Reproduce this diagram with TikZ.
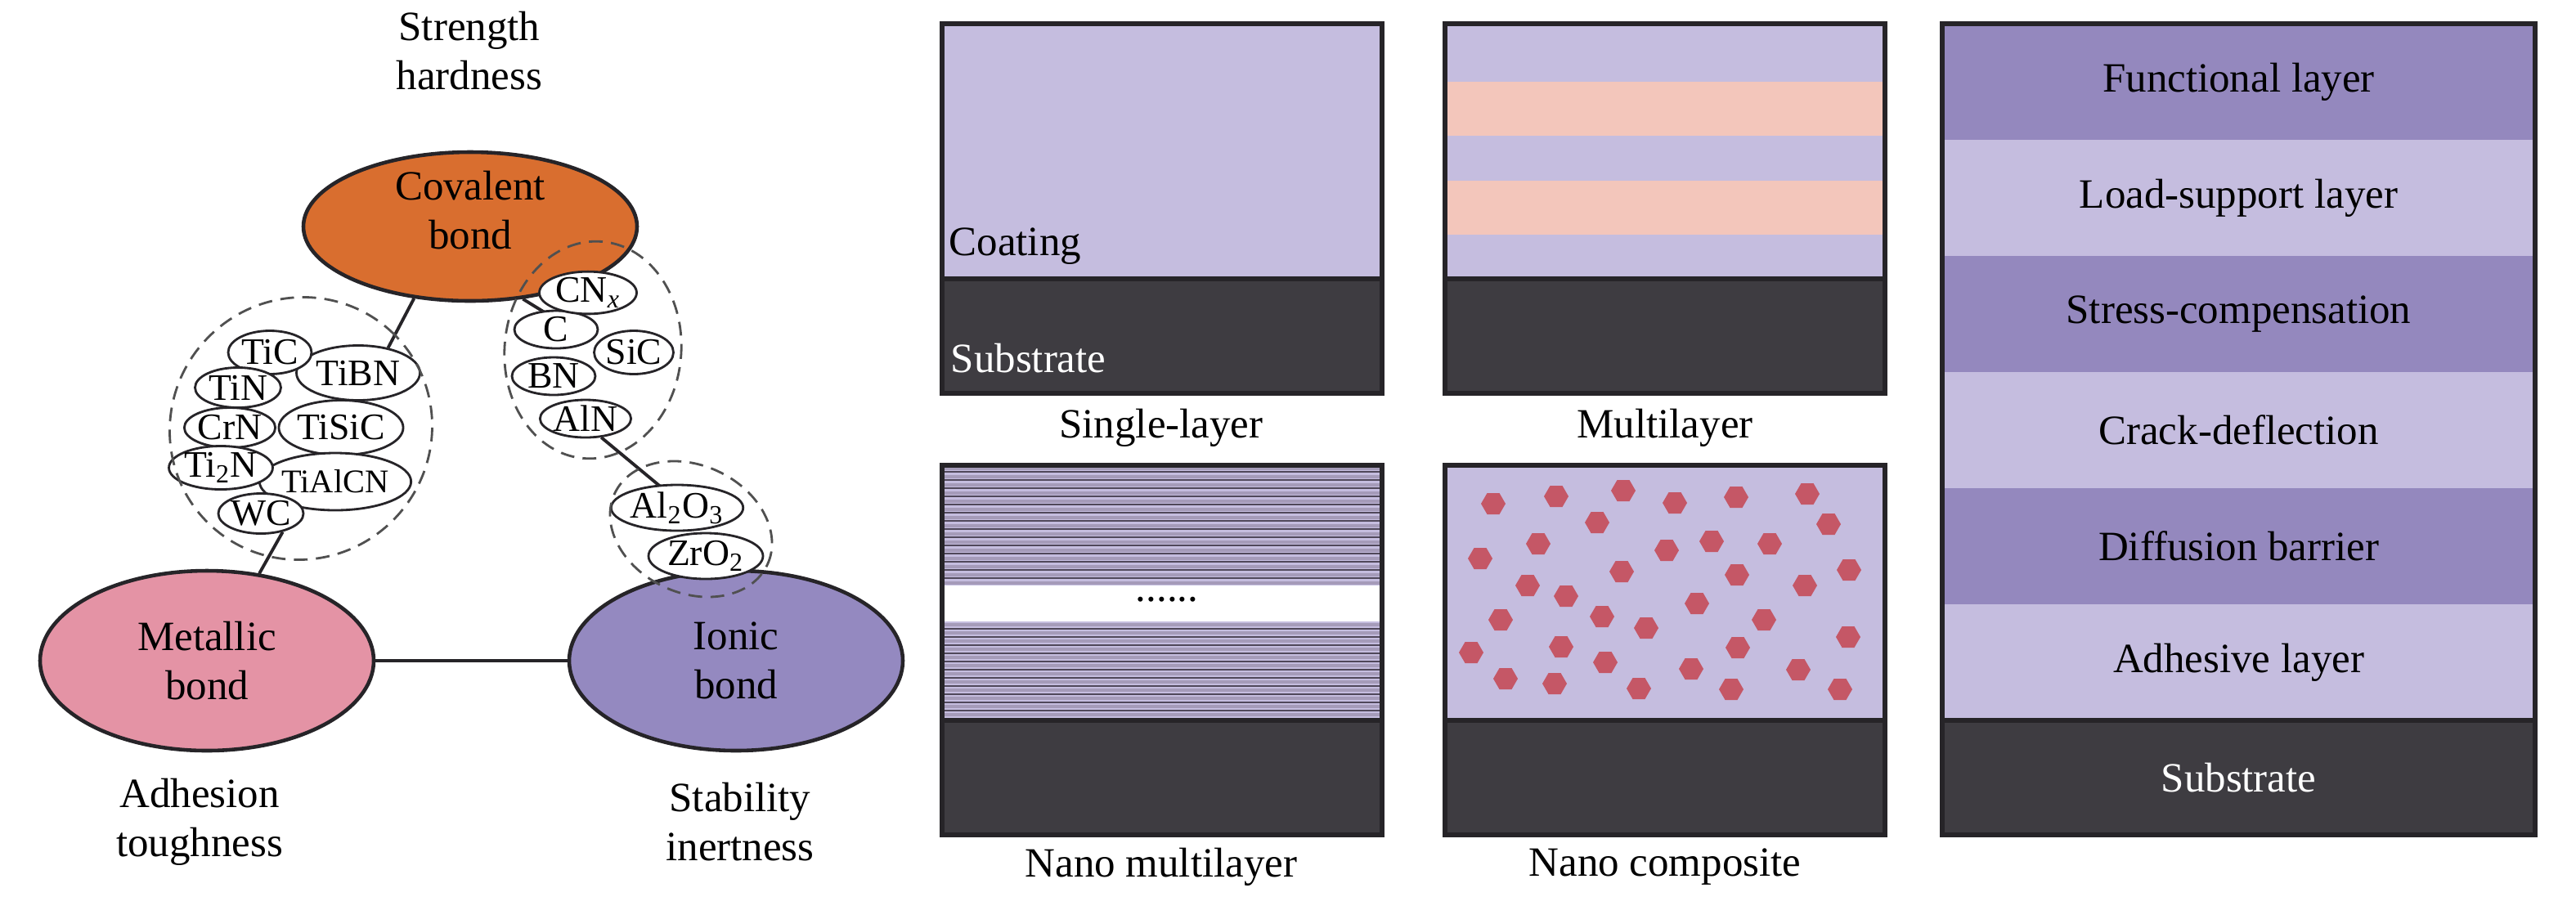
\documentclass[tikz,border=0pt]{standalone}
\usepackage{fontspec}
\setmainfont{LiberationSerif-Regular.ttf}[BoldFont=LiberationSerif-Bold.ttf,ItalicFont=LiberationSerif-Italic.ttf,BoldItalicFont=LiberationSerif-BoldItalic.ttf]
\usetikzlibrary{shapes.geometric}
\definecolor{covOrange}{RGB}{217,110,47}
\definecolor{metPink}{RGB}{228,147,165}
\definecolor{ionPurple}{RGB}{148,137,192}
\definecolor{coatLilac}{RGB}{197,189,223}
\definecolor{layerPurple}{RGB}{148,136,190}
\definecolor{peachLayer}{RGB}{243,198,187}
\definecolor{subDark}{RGB}{62,60,65}
\definecolor{edgeDark}{RGB}{38,36,40}
\definecolor{hexRed}{RGB}{197,87,102}
\definecolor{stripeGray}{RGB}{165,155,185}
\definecolor{stripeDark}{RGB}{80,72,90}
\definecolor{dashGray}{RGB}{80,80,80}
\newcommand{\txtsize}{\fontsize{14.5}{17}\selectfont}

\begin{document}
\begin{tikzpicture}[
    bond/.style={ellipse,draw=edgeDark,line width=1.3pt,minimum width=4.08cm,minimum height=2.2cm,inner sep=0pt,align=center,font=\txtsize},
    chem/.style={ellipse,draw=edgeDark,fill=white,line width=0.8pt,inner sep=0pt,font=\fontsize{13}{15}\selectfont},
    cluster/.style={ellipse,draw=dashGray,line width=0.8pt,dash pattern=on 4.8pt off 2.9pt,inner sep=0pt},
    link/.style={edgeDark,line width=1.1pt},
    panel/.style={draw=edgeDark,line width=1.7pt},
    lbl/.style={align=center,font=\txtsize,inner sep=0pt},
    layerbox/.style={rectangle,minimum width=7.25cm,minimum height=1.42cm,inner sep=0pt,font=\txtsize},
    hexa/.style={regular polygon,regular polygon sides=6,fill=hexRed,minimum size=3mm,inner sep=0pt}]
  \useasboundingbox (0,0) rectangle (31.5,-10.96);

  % bond triangle
  \node[bond,fill=covOrange,minimum height=1.82cm] (cov) at (5.75,-2.77) {};
  \node[lbl] (covTxt) at ([yshift=2mm]cov.center) {Covalent\\bond};
  \node[bond,fill=metPink] (met) at (2.53,-8.08) {Metallic\\bond};
  \node[bond,fill=ionPurple] (ion) at (9.00,-8.08) {Ionic\\bond};
  \node[lbl] (covProp) at (5.74,-0.62) {Strength\\hardness};
  \node[lbl] (metProp) at (2.44,-10.05) {Adhesion\\toughness};
  \node[lbl] (ionProp) at (9.05,-10.05) {Stability\\inertness};
  \draw[link] (met) -- (ion);

  % coatings between covalent and metallic
  \node[chem,minimum width=1.51cm,minimum height=0.67cm] (tibn) at (4.38,-4.56) {TiBN};
  \node[chem,minimum width=1.51cm,minimum height=0.67cm] (tisic) at (4.17,-5.23) {TiSiC};
  \node[chem,minimum width=1.47cm,minimum height=0.70cm,font=\fontsize{11.5}{13}\selectfont] (tialcn) at (4.10,-5.89) {TiAlCN};
  \node[chem,minimum width=1.02cm,minimum height=0.53cm] (tic) at (3.30,-4.31) {TiC};
  \node[chem,minimum width=1.05cm,minimum height=0.49cm] (tin) at (2.91,-4.74) {TiN};
  \node[chem,minimum width=1.02cm,minimum height=0.49cm] (crn) at (2.81,-5.23) {CrN};
  \node[chem,minimum width=1.05cm,minimum height=0.53cm] (titwon) at (2.70,-5.72) {Ti\textsubscript{2}N};
  \node[chem,minimum width=1.02cm,minimum height=0.49cm] (wc) at (3.19,-6.28) {WC};
  \draw[link] (cov.232) -- (tibn.40);
  \draw[link] (wc.320) -- (met.59);
  \node[cluster,minimum width=3.24cm,minimum height=3.18cm,rotate=45] (gleft) at (3.68,-5.24) {};

  % coatings between covalent and ionic
  \draw[link] (cov.306) -- (7.00,-4.03);
  \node[chem,minimum width=1.02cm,minimum height=0.46cm] (aln) at (7.16,-5.12) {AlN};
  \node[chem,minimum width=1.02cm,minimum height=0.46cm] (bn) at (6.77,-4.60) {BN};
  \node[chem,minimum width=0.95cm,minimum height=0.53cm] (sic) at (7.75,-4.31) {SiC};
  \node[chem,minimum width=1.02cm,minimum height=0.46cm] (cc) at (6.80,-4.03) {C};
  \node[chem,minimum width=1.19cm,minimum height=0.49cm] (cnx) at (7.19,-3.58) {CN\textsubscript{\textit{x}}};
  \node[cluster,minimum width=2.16cm,minimum height=2.66cm,rotate=-5] (gright) at (7.25,-4.28) {};
  \draw[link] (aln.310) -- (8.10,-5.97);
  \node[chem,minimum width=1.40cm,minimum height=0.56cm] (alo) at (8.28,-6.21) {Al\textsubscript{2}O\textsubscript{3}};
  \node[chem,minimum width=1.40cm,minimum height=0.56cm] (zro) at (8.63,-6.80) {ZrO\textsubscript{2}};
  \node[cluster,minimum width=2.06cm,minimum height=1.56cm,rotate=-25] (glow) at (8.45,-6.47) {};

  % single-layer
  \begin{scope}[shift={(11.52,-4.81)}]
    \fill[coatLilac] (0,1.40) rectangle (5.38,4.52);
    \fill[subDark] (0,0) rectangle (5.38,1.40);
    \draw[panel] (0,1.40) -- (5.38,1.40);
    \draw[panel] (0,0) rectangle (5.38,4.52);
    \node[lbl,anchor=west] (coatTxt) at (0.08,1.80) {Coating};
    \node[lbl,anchor=west,text=white] (subTxt) at (0.10,0.43) {Substrate};
  \end{scope}
  \node[lbl] (capSingle) at (14.20,-5.23) {Single-layer};

  % multilayer
  \begin{scope}[shift={(17.67,-4.81)}]
    \fill[coatLilac] (0,1.40) rectangle (5.38,4.52);
    \fill[peachLayer] (0,3.15) rectangle (5.38,3.81);
    \fill[peachLayer] (0,1.94) rectangle (5.38,2.60);
    \fill[subDark] (0,0) rectangle (5.38,1.40);
    \draw[panel] (0,1.40) -- (5.38,1.40);
    \draw[panel] (0,0) rectangle (5.38,4.52);
  \end{scope}
  \node[lbl] (capMulti) at (20.36,-5.23) {Multilayer};

  % nano multilayer
  \begin{scope}[shift={(11.52,-10.21)}]
    \fill[coatLilac] (0,1.40) rectangle (5.38,4.52);
    \foreach \k in {0,...,14} {
      \draw[stripeGray,line width=1.0pt] (0,4.48-\k*0.1) -- (5.38,4.48-\k*0.1);
      \draw[stripeDark,line width=0.5pt] (0,4.44-\k*0.1) -- (5.38,4.44-\k*0.1);
    }
    \foreach \k in {0,...,11} {
      \draw[stripeGray,line width=1.0pt] (0,2.57-\k*0.1) -- (5.38,2.57-\k*0.1);
      \draw[stripeDark,line width=0.5pt] (0,2.52-\k*0.1) -- (5.38,2.52-\k*0.1);
    }
    \fill[white] (0,2.61) rectangle (5.38,3.05);
    \node[lbl] (dots) at (2.75,2.88) {......};
    \fill[subDark] (0,0) rectangle (5.38,1.40);
    \draw[panel] (0,1.40) -- (5.38,1.40);
    \draw[panel] (0,0) rectangle (5.38,4.52);
  \end{scope}
  \node[lbl] (capNanoMulti) at (14.20,-10.60) {Nano multilayer};

  % nano composite
  \begin{scope}[shift={(17.67,-10.21)}]
    \fill[coatLilac] (0,1.40) rectangle (5.38,4.52);
    \foreach \hx/\hy [count=\i] in {0.59/4.05,1.36/4.14,2.18/4.21,2.81/4.06,3.56/4.13,4.43/4.17,
        1.86/3.82,4.69/3.80,1.14/3.56,2.71/3.48,3.26/3.59,3.97/3.56,0.43/3.38,2.16/3.22,
        3.57/3.18,4.94/3.24,1.01/3.05,1.48/2.92,4.40/3.05,3.08/2.83,0.68/2.63,1.92/2.67,
        2.46/2.53,3.90/2.63,4.93/2.42,0.32/2.23,1.42/2.30,3.58/2.29,1.96/2.11,3.01/2.03,
        4.32/2.02,0.74/1.91,1.34/1.85,2.37/1.79,3.50/1.78,4.83/1.78}
      \node[hexa] (hex\i) at (\hx,\hy) {};
    \fill[subDark] (0,0) rectangle (5.38,1.40);
    \draw[panel] (0,1.40) -- (5.38,1.40);
    \draw[panel] (0,0) rectangle (5.38,4.52);
  \end{scope}
  \node[lbl] (capNanoComp) at (20.36,-10.60) {Nano composite};

  % gradient layer stack
  \begin{scope}[shift={(23.75,-10.21)}]
    \node[layerbox,fill=subDark,text=white,minimum height=1.40cm] (subR) at (3.625,0.70) {Substrate};
    \foreach \name/\col [count=\i from 0] in {Adhesive layer/coatLilac,Diffusion barrier/layerPurple,
        Crack-deflection/coatLilac,Stress-compensation/layerPurple,Load-support layer/coatLilac,
        Functional layer/layerPurple}
      \node[layerbox,fill=\col] (lay\i) at (3.625,2.11+\i*1.42) {\name};
    \draw[panel] (0,1.40) -- (7.25,1.40);
    \draw[panel] (0,0) rectangle (7.25,9.92);
  \end{scope}
\end{tikzpicture}
\end{document}
